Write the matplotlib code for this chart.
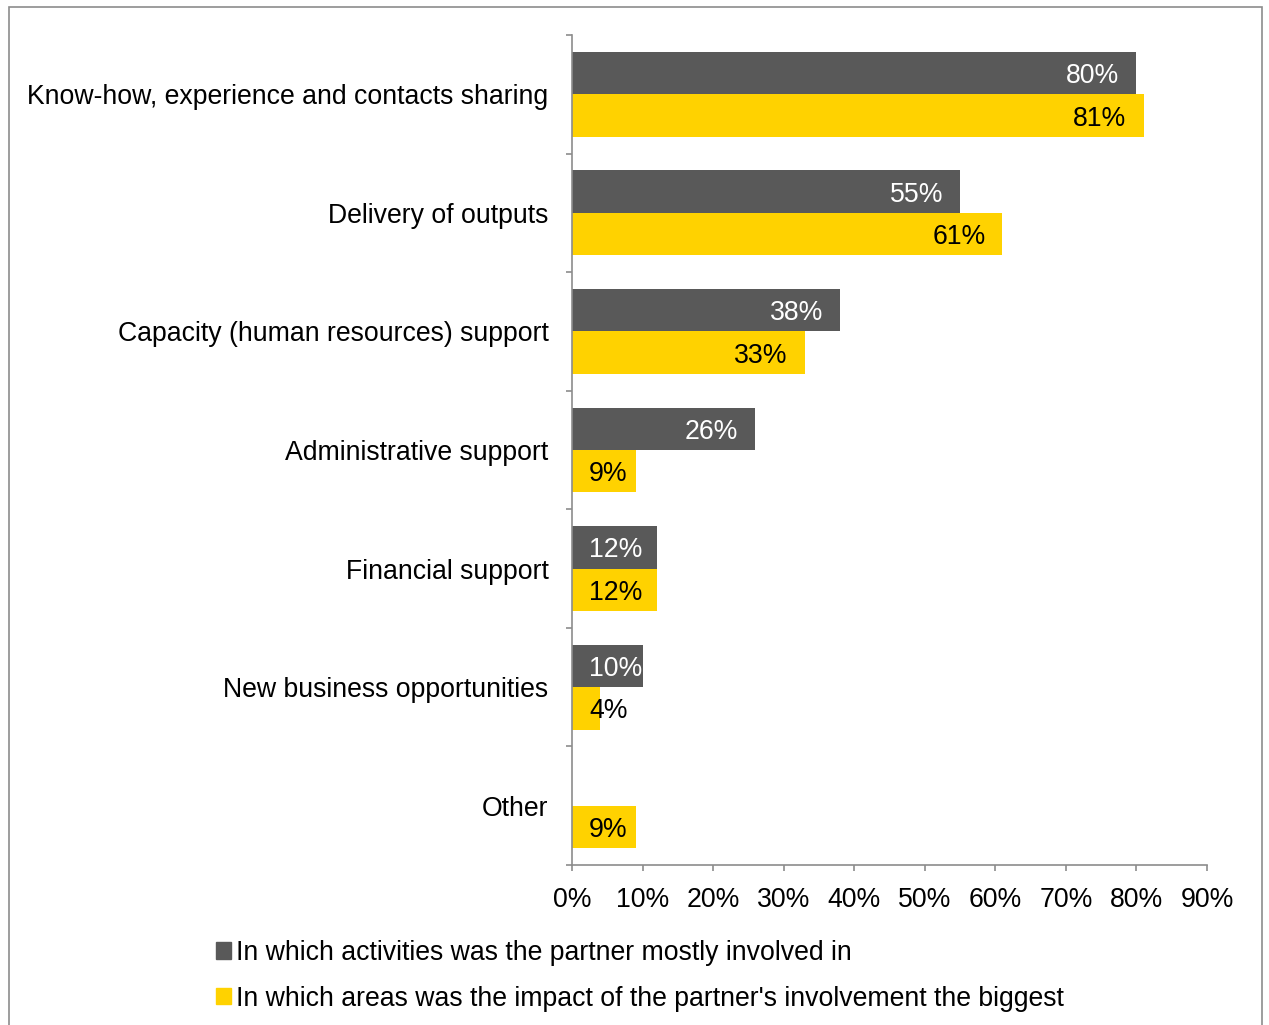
import matplotlib
matplotlib.use("Agg")
import matplotlib.pyplot as plt
from matplotlib.patches import Patch, Rectangle
from matplotlib.ticker import FuncFormatter
import numpy as np

plt.rcParams["font.family"] = ["Liberation Sans", "DejaVu Sans"]

categories = [
    "Know-how, experience and contacts sharing",
    "Delivery of outputs",
    "Capacity (human resources) support",
    "Administrative support",
    "Financial support",
    "New business opportunities",
    "Other",
]
involved = [80, 55, 38, 26, 12, 10, 0]
impact = [81, 61, 33, 9, 12, 4, 9]
series_names = [
    "In which activities was the partner mostly involved in",
    "In which areas was the impact of the partner's involvement the biggest",
]

GREY = "#595959"
YELLOW = "#FFD200"
AXIS = "#8c8c8c"
FS = 19.2

W, H = 1269, 1025
fig = plt.figure(figsize=(W / 100, H / 100), dpi=100)
ax = fig.add_axes([572 / W, 1 - 865 / H, (1207 - 572) / W, (865 - 35) / H])

n = len(categories)
y = np.arange(n)
bh = 0.358
ax.barh(y - bh / 2, involved, height=bh, color=GREY, label=series_names[0])
ax.barh(y + bh / 2, impact, height=bh, color=YELLOW, label=series_names[1])

ax.set_xlim(0, 90)
ax.set_ylim(n - 0.5, -0.5)
ax.set_xticks(np.arange(0, 91, 10))
ax.xaxis.set_major_formatter(FuncFormatter(lambda v, _: "%d%%" % v))
ax.set_yticks(y)
ax.set_yticklabels(categories)
ax.set_yticks(np.arange(n + 1) - 0.5, minor=True)

ax.tick_params(axis="y", which="major", length=0, pad=17, labelsize=FS)
ax.tick_params(axis="y", which="minor", length=6 * 0.72, width=1.2, color=AXIS)
ax.tick_params(axis="x", length=6 * 0.72, width=1.2, color=AXIS, pad=11.5, labelsize=FS)
for s in ("top", "right"):
    ax.spines[s].set_visible(False)
for s in ("left", "bottom"):
    ax.spines[s].set_color(AXIS)
    ax.spines[s].set_linewidth(1.2)

# data labels: inside end, pushed to the axis when the bar is too short
pad = 17 * 0.72
dy = -2.2
for vals, off, col in ((involved, -bh / 2, "white"), (impact, bh / 2, "black")):
    for i, v in enumerate(vals):
        if v == 0:
            continue
        if v < 12.5:
            ax.annotate("%d%%" % v, (0, i + off), xytext=(pad, dy),
                        textcoords="offset points", ha="left", va="center",
                        color=col, fontsize=FS)
        else:
            ax.annotate("%d%%" % v, (v, i + off), xytext=(-pad, dy),
                        textcoords="offset points", ha="right", va="center",
                        color=col, fontsize=FS)

handles = [Patch(color=GREY), Patch(color=YELLOW)]
fig.legend(handles, series_names, loc="upper left",
           bbox_to_anchor=(216 / W, 1 - 940 / H), frameon=False,
           fontsize=FS, handlelength=0.56, handleheight=0.56,
           handletextpad=0.2, labelspacing=0.74, borderpad=0,
           borderaxespad=0)

# outer chart border
fig.patches.append(Rectangle((9 / W, -0.05), (1262 - 9) / W, 1.05 - 6.5 / H,
                             transform=fig.transFigure, fill=False,
                             edgecolor="#8c8c8c", linewidth=1.2))

fig.savefig("out.png", dpi=100)
